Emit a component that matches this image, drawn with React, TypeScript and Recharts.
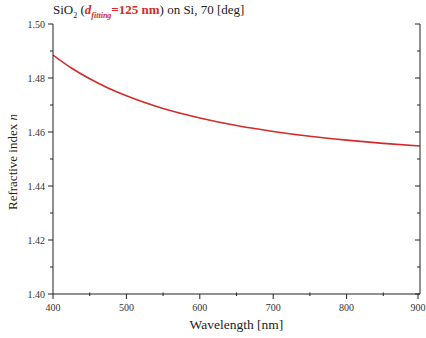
import React from "react";
import { Line, LineChart, XAxis, YAxis } from "recharts";

const wavelengths = [400, 425, 450, 475, 500, 550, 600, 650, 700, 750, 800, 850, 900];
const refractiveIndex = [1.4885, 1.4837, 1.4797, 1.4763, 1.4734, 1.4687, 1.4652, 1.4624, 1.4602, 1.4584, 1.457, 1.4558, 1.4548];
const xTicks = [400, 450, 500, 550, 600, 650, 700, 750, 800, 850, 900];
const yTicks = [1.4, 1.41, 1.42, 1.43, 1.44, 1.45, 1.46, 1.47, 1.48, 1.49, 1.5];

const data = wavelengths.map((wl, i) => ({ wl, n: refractiveIndex[i] }));

const FONT = "Liberation Serif, DejaVu Serif, serif";
const AXIS = "#222";

const BottomTick = (props: any) => {
  const { x, y, payload } = props;
  const major = payload.value % 100 === 0;
  return (
    <g>
      <line x1={x} x2={x} y1={major ? y : y - 1.5} y2={y + (major ? 5 : 2)} stroke={AXIS} strokeWidth={1} />
      {major && (
        <text x={x} y={y + 17} textAnchor="middle" fontSize={10} style={{ fontFamily: FONT }} fill="#333">
          {payload.value}
        </text>
      )}
    </g>
  );
};

const TopTick = (props: any) => {
  const { x, y, payload } = props;
  const major = payload.value % 100 === 0;
  return <line x1={x} x2={x} y1={y} y2={y + (major ? 5 : 3)} stroke={AXIS} strokeWidth={1} />;
};

const LeftTick = (props: any) => {
  const { x, y, payload } = props;
  const major = Math.round(payload.value * 100) % 2 === 0;
  return (
    <g>
      <line x1={x - (major ? 5 : 3)} x2={x} y1={y} y2={y} stroke={AXIS} strokeWidth={1} />
      {major && (
        <text x={x - 8} y={y + 3.5} textAnchor="end" fontSize={10} style={{ fontFamily: FONT }} fill="#333">
          {payload.value.toFixed(2)}
        </text>
      )}
    </g>
  );
};

const RightTick = (props: any) => {
  const { x, y, payload } = props;
  const major = Math.round(payload.value * 100) % 2 === 0;
  return <line x1={x - (major ? 5 : 3)} x2={x} y1={y} y2={y} stroke={AXIS} strokeWidth={1} />;
};

export default function App() {
  return (
    <div style={{ position: "absolute", left: 0, top: 0, width: 426, height: 338, background: "#fff", fontFamily: FONT, overflow: "hidden" }}>
      <LineChart width={430} height={338} data={data} margin={{ top: 24, right: 4, bottom: 0, left: 0 }}>
        <XAxis
          dataKey="wl"
          type="number"
          domain={[400, 900]}
          ticks={xTicks}
          height={44}
          tickSize={0}
          tickMargin={0}
          tick={BottomTick}
          stroke={AXIS}
          allowDataOverflow
        />
        <XAxis
          xAxisId="top"
          dataKey="wl"
          type="number"
          orientation="top"
          domain={[400, 900]}
          ticks={xTicks}
          height={0}
          tickSize={0}
          tickMargin={0}
          tick={TopTick}
          stroke={AXIS}
          allowDataOverflow
        />
        <YAxis
          type="number"
          domain={[1.4, 1.5]}
          ticks={yTicks}
          width={53}
          tickSize={0}
          tickMargin={0}
          tick={LeftTick}
          stroke={AXIS}
          allowDataOverflow
        />
        <YAxis
          yAxisId="right"
          orientation="right"
          type="number"
          domain={[1.4, 1.5]}
          ticks={yTicks}
          width={6}
          tickSize={0}
          tickMargin={0}
          tick={RightTick}
          stroke={AXIS}
          allowDataOverflow
        />
        <Line
          dataKey="n"
          type="monotone"
          stroke="#d42a2a"
          strokeWidth={1.6}
          dot={false}
          isAnimationActive={false}
        />
      </LineChart>
      <div style={{ position: "absolute", left: 53, top: 2, fontSize: 13, color: "#222", whiteSpace: "nowrap" }}>
        SiO<sub style={{ fontSize: 8 }}>2</sub> (
        <span style={{ color: "#d42a2a", fontWeight: "bold" }}>
          <i>d</i>
          <sub style={{ fontSize: 8, fontStyle: "italic" }}>fitting</sub>=125 nm
        </span>
        ) on Si, 70 [deg]
      </div>
      <div style={{ position: "absolute", left: 53, top: 317, width: 367, textAlign: "center", fontSize: 13.5, color: "#222" }}>
        Wavelength [nm]
      </div>
      <div
        style={{
          position: "absolute",
          left: 13,
          top: 162,
          transform: "translate(-50%, -50%) rotate(-90deg)",
          fontSize: 13,
          color: "#222",
          whiteSpace: "nowrap",
        }}
      >
        Refractive index <i>n</i>
      </div>
    </div>
  );
}
